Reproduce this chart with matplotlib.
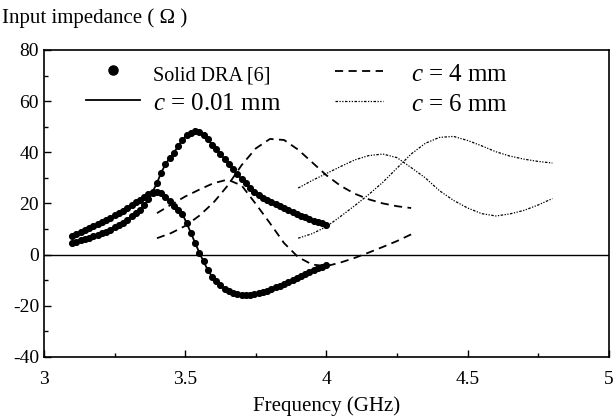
import numpy as np
import matplotlib
matplotlib.use("Agg")
import matplotlib.pyplot as plt
from matplotlib.ticker import MultipleLocator

plt.rcParams['font.family'] = 'Liberation Serif'
plt.rcParams['mathtext.fontset'] = 'custom'
plt.rcParams['mathtext.rm'] = 'Liberation Serif'
plt.rcParams['mathtext.it'] = 'Liberation Serif:italic'
plt.rcParams['axes.unicode_minus'] = False

# solid DRA (measured in [6]) and c = 0.01 mm, 3.10 - 4.00 GHz every 15 MHz
freq_solid = np.linspace(3.10, 4.00, 61)
r_solid = [4.6, 5.1, 5.6, 6.1, 6.6, 7.1, 7.7, 8.3, 9.0, 9.7,
           10.6, 11.5, 12.5, 13.7, 14.9, 16.1, 17.4, 19.3, 21.7, 24.6,
           28.0, 32.0, 35.3, 37.7, 39.8, 42.4, 44.8, 46.6, 47.7, 48.2,
           47.9, 46.8, 45.0, 43.0, 41.2, 39.3, 37.3, 35.3, 33.3, 31.4,
           29.5, 27.8, 26.1, 24.6, 23.2, 22.2, 21.3, 20.5, 19.8, 19.0,
           18.2, 17.3, 16.6, 15.8, 15.1, 14.5, 13.8, 13.2, 12.7, 12.2,
           11.7]
x_solid = [7.2, 7.9, 8.7, 9.5, 10.3, 11.1, 11.9, 12.7, 13.5, 14.4,
           15.3, 16.2, 17.2, 18.3, 19.3, 20.4, 21.5, 22.6, 23.5, 24.1,
           24.4, 24.1, 22.6, 21.0, 19.0, 17.6, 15.8, 12.4, 8.5, 4.6,
           0.8, -2.7, -6.0, -8.6, -10.3, -12.0, -13.3, -14.2, -14.9, -15.4,
           -15.7, -15.8, -15.7, -15.5, -15.2, -14.7, -14.1, -13.5, -12.8, -12.1,
           -11.4, -10.6, -9.9, -9.1, -8.4, -7.6, -6.9, -6.2, -5.4, -4.7,
           -4.0]

# c = 4 mm, 3.40 - 4.30 GHz
freq_c4 = np.arange(3.40, 4.301, 0.05)
r_c4 = [6.4, 8.4, 11.2, 15.2, 20.3, 26.9, 35.0, 41.5, 45.2, 44.8,
        41.0, 36.0, 31.0, 26.9, 23.8, 21.6, 20.0, 18.9, 18.2]
x_c4 = [16.2, 19.5, 22.7, 25.4, 27.9, 29.3, 27.0, 19.8, 12.3, 4.5,
        -1.0, -3.9, -4.5, -3.1, -1.3, 0.8, 3.0, 5.3, 7.9]

# c = 6 mm, 3.90 - 4.80 GHz
freq_c6 = np.arange(3.90, 4.801, 0.05)
r_c6 = [6.4, 8.2, 10.9, 14.9, 19.1, 23.5, 28.3, 33.8, 39.3, 43.5,
        45.8, 46.2, 44.6, 42.5, 40.2, 38.5, 37.3, 36.4, 35.8]
x_c6 = [26.0, 29.0, 31.7, 34.4, 37.0, 38.7, 39.3, 37.9, 34.0, 30.0,
        25.0, 21.2, 18.2, 16.0, 15.1, 15.9, 17.3, 19.4, 21.9]

fig = plt.figure(figsize=(6.15, 4.16), dpi=100)
ax = fig.add_axes([0.0715, 0.142, 0.9185, 0.738])

ax.axhline(0, color='black', lw=1.0)

# c = 0.01 mm line under the measured dots
l001, = ax.plot(freq_solid, r_solid, color='black', lw=1.3)
ax.plot(freq_solid, x_solid, color='black', lw=1.3)
dots, = ax.plot(freq_solid, r_solid, 'o', color='black', ms=4.1, ls='none')
ax.plot(freq_solid, x_solid, 'o', color='black', ms=4.1, ls='none')

dash4 = (0, (4.5, 3.0))
l4, = ax.plot(freq_c4, r_c4, color='black', lw=1.3, ls=dash4)
ax.plot(freq_c4, x_c4, color='black', lw=1.3, ls=dash4)

dot6 = (0, (2.0, 1.2, 1.0, 1.2, 1.0, 1.2))
l6, = ax.plot(freq_c6, r_c6, color='black', lw=0.9, ls=dot6)
ax.plot(freq_c6, x_c6, color='black', lw=0.9, ls=dot6)

ax.set_xlim(3, 5)
ax.set_ylim(-40, 80)
ax.xaxis.set_major_locator(MultipleLocator(0.5))
ax.xaxis.set_minor_locator(MultipleLocator(0.25))
ax.yaxis.set_major_locator(MultipleLocator(20))
ax.yaxis.set_minor_locator(MultipleLocator(10))
ax.set_xticks([3, 3.5, 4, 4.5, 5])
ax.set_xticklabels(['3', '3.5', '4', '4.5', '5'])
ax.tick_params(which='both', direction='in', labelsize=14)
ax.tick_params(axis='x', which='major', pad=10)
ax.tick_params(which='major', length=5, width=1)
ax.tick_params(which='minor', length=3, width=1)
for s in ax.spines.values():
    s.set_linewidth(1.2)

ax.set_xlabel('Frequency (GHz)', fontsize=15, labelpad=6)
fig.text(0.004, 0.957, 'Input impedance ( Ω )', fontsize=15, va='center', ha='left')

leg1 = ax.legend([dots, l001], ['Solid DRA [6]', '$c$ = 0.01 mm'],
                 loc='upper left', bbox_to_anchor=(0.074, 0.966),
                 frameon=False, fontsize=18, handlelength=2.16, handletextpad=0.52,
                 borderpad=0, borderaxespad=0, labelspacing=0.2,
                 handleheight=1.0, numpoints=1, markerscale=1.6)
leg1.get_texts()[0].set_fontsize(14.5)
ax.add_artist(leg1)
leg2 = ax.legend([l4, l6], ['$c$ = 4 mm', '$c$ = 6 mm'],
                 loc='upper left', bbox_to_anchor=(0.515, 0.962),
                 frameon=False, fontsize=18, handlelength=1.92, handletextpad=1.12,
                 borderpad=0, borderaxespad=0, labelspacing=0.2,
                 handleheight=1.0)

fig.savefig('out.png', dpi=100)
